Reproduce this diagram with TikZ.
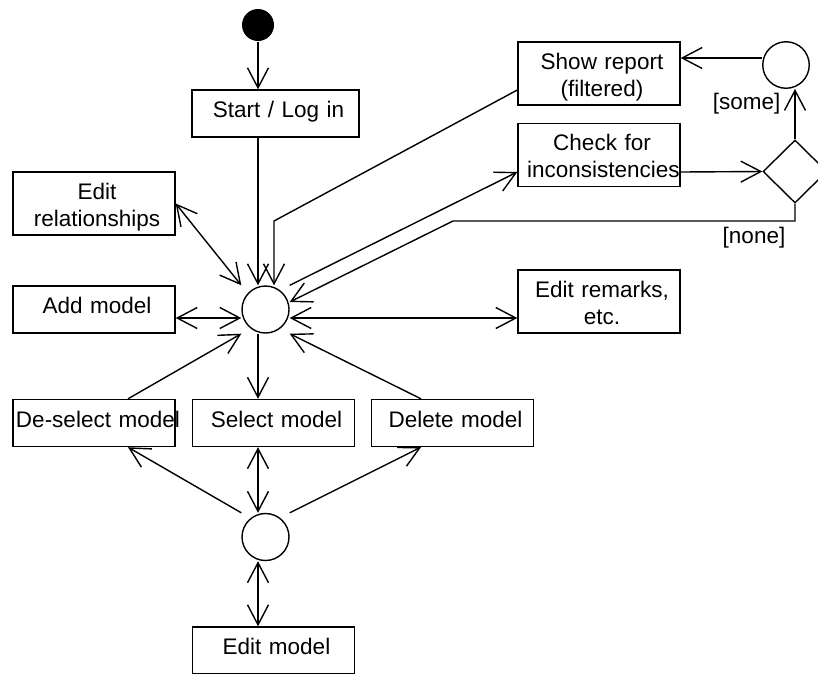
\documentclass[tikz,border=0pt]{standalone}
\usepackage{fontspec}
\setmainfont{Liberation Sans}
\usetikzlibrary{arrows.meta,shapes.geometric}

\begin{document}
\begin{tikzpicture}[x=1pt, y=-1pt, line width=1.4pt,
  >={Straight Barb[length=20pt, width=21pt]},
  every node/.style={font=\fontsize{22.5}{27}\selectfont},
  act/.style={draw, rectangle, text width=156pt, inner xsep=3pt, inner ysep=0pt, align=center,
    execute at begin node={\leftskip=6pt plus 1fil\rightskip=0pt plus 1fil\parfillskip=0pt}},
  act1/.style={act, minimum height=47pt, text height=16pt, text depth=8pt},
  act2/.style={act, minimum height=63pt, text height=16pt, text depth=24.4pt},
  junction/.style={draw, circle, minimum size=47pt, inner sep=0pt},
  startdot/.style={circle, fill=black, minimum size=32pt, inner sep=0pt},
  decision/.style={draw, diamond, minimum width=64pt, minimum height=63pt, inner sep=0pt},
  guard/.style={inner sep=0pt}]

\useasboundingbox (0,0) rectangle (818,673);
\clip (0,0) rectangle (818,673);

% activities, junctions and the decision
\node[startdot] (init) at (258,25) {};
\node[act1, text width=161pt] (login) at (275.5,113.5) {Start / Log in};
\node[act2] (report) at (599,73.5) {Show report\\(filtered)};
\node[junction, minimum size=46.5pt] (rc) at (786,65) {};
\node[act2] (check) at (599,155) {Check for\\inconsistencies};
\node[decision] (dec) at (795,171.5) {};
\node[act2] (rel) at (94,203.5) {Edit\\relationships};
\node[act1] (add) at (94,309.5) {Add model};
\node[junction] (hub) at (265.5,309.5) {};
\node[act2] (rem) at (599,301.5) {Edit remarks,\\etc.};
\node[act1] (desel) at (94,423) {\hspace*{-6pt}\mbox{De-select model}};
\node[act1] (sel) at (273.5,423) {Select model};
\node[act1] (del) at (452.5,423) {Delete model};
\node[junction] (low) at (265.5,537) {};
\node[act1] (edit) at (273.5,650.5) {Edit model};

% guards
\node[guard] (some) at (746.5,104) {[some]};
\node[guard] (none) at (754,238) {[none]};

% helper coordinates for the routing
\coordinate (ax) at (258,0);
\coordinate (ry) at (0,58);
\coordinate (cy) at (0,172);
\coordinate (hy) at (0,318);
\coordinate (rb) at (274,221);
\coordinate (nb) at (453,221);
\coordinate (dsx) at (128,0);
\coordinate (dlx) at (421,0);

% flows
\draw[->] (init) -- (ax |- login.north);
\draw[->] (ax |- login.south) -- (ax |- hub.north);
\draw[->] ([yshift=-16.5pt]report.west) -- (rb) -- (rb |- hub.north);
\draw[->] (hub.east |- hub.north) -- (check.west |- cy);
\draw[->] (check.east |- cy) -- (dec.west);
\draw[->] (dec.north) -- (dec.north |- rc.south);
\draw[->] (rc.west |- ry) -- (report.east |- ry);
\draw[->] (dec.south) -- (dec.south |- nb) -- (nb) -- ([yshift=7.5pt]hub.east);
\draw[<->] (rel.east) -- (hub.west |- hub.north);
\draw[<->] (add.east |- hy) -- (hub.west |- hy);
\draw[<->] (hub.east |- hy) -- (rem.west |- hy);
\draw[->] (dsx |- desel.north) -- (hub.west |- hub.south);
\draw[->] (dlx |- del.north) -- (hub.east |- hub.south);
\draw[->] (ax |- hub.south) -- (ax |- sel.north);
\draw[<->] (ax |- sel.south) -- (ax |- low.north);
\draw[->] (low.west |- low.north) -- (dsx |- desel.south);
\draw[->] (low.east |- low.north) -- (dlx |- del.south);
\draw[<->] (ax |- low.south) -- (ax |- edit.north);

\end{tikzpicture}
\end{document}
